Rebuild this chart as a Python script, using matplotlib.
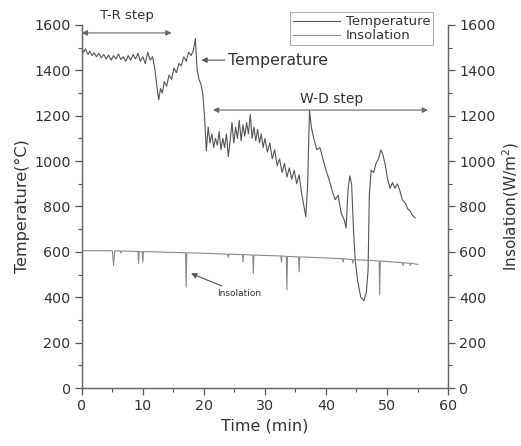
import matplotlib
matplotlib.use("Agg")
import matplotlib.pyplot as plt
from matplotlib.ticker import MultipleLocator

plt.rcParams.update({
    "font.family": "DejaVu Sans",
    "font.size": 10.3,
    "text.color": "#333333",
    "axes.labelcolor": "#333333",
    "xtick.color": "#555555",
    "ytick.color": "#555555",
    "xtick.labelcolor": "#333333",
    "ytick.labelcolor": "#333333",
})

# Temperature trace (min, degC)
time_temp = [0.0, 0.3, 0.6, 1.0, 1.3, 1.7, 2.0, 2.4, 2.8, 3.2, 3.6, 4.0, 4.4, 4.8,
             5.2, 5.6, 6.0, 6.4, 6.8, 7.2, 7.6, 8.0, 8.4, 8.8, 9.2, 9.6, 10.0,
             10.4, 10.8, 11.2, 11.6, 12.0, 12.3, 12.6, 12.9, 13.2, 13.5, 13.9,
             14.3, 14.7, 15.1, 15.5, 15.9, 16.3, 16.7, 17.1, 17.5, 17.9, 18.3,
             18.6, 18.9, 19.2, 19.5, 19.8, 20.1, 20.4, 20.7, 21.0, 21.3, 21.6,
             21.9, 22.2, 22.5, 22.8, 23.1, 23.4, 23.7, 24.0, 24.3, 24.6, 24.9,
             25.2, 25.5, 25.8, 26.1, 26.4, 26.7, 27.0, 27.3, 27.6, 27.9, 28.2,
             28.5, 28.8, 29.1, 29.4, 29.7, 30.0, 30.4, 30.8, 31.2, 31.6, 32.0,
             32.4, 32.8, 33.2, 33.6, 34.0, 34.4, 34.8, 35.2, 35.6, 36.0, 36.4,
             36.7, 37.0, 37.3, 37.6, 38.0, 38.5, 39.0, 39.5, 40.0, 40.5, 41.0,
             41.5, 42.0, 42.5, 43.0, 43.3, 43.6, 43.9, 44.2, 44.5, 44.8, 45.2,
             45.7, 46.2, 46.6, 46.9, 47.1, 47.4, 47.8, 48.2, 48.6, 49.0, 49.3,
             49.7, 50.1, 50.5, 50.9, 51.3, 51.7, 52.1, 52.5, 53.0, 53.4, 53.8,
             54.2, 54.6]
temperature = [1500, 1480, 1495, 1470, 1485, 1465, 1478, 1460, 1475, 1455, 1470,
               1450, 1468, 1445, 1465, 1450, 1472, 1448, 1460, 1440, 1465, 1445,
               1470, 1450, 1475, 1440, 1460, 1430, 1480, 1445, 1460, 1400, 1330,
               1270, 1320, 1300, 1350, 1330, 1380, 1360, 1410, 1390, 1430, 1420,
               1460, 1440, 1480, 1465, 1490, 1540, 1400, 1360, 1340, 1300, 1200,
               1045, 1150, 1080, 1120, 1060, 1100, 1070, 1130, 1050, 1100, 1060,
               1120, 1020, 1090, 1170, 1080, 1150, 1100, 1180, 1090, 1160, 1110,
               1170, 1120, 1205, 1100, 1150, 1090, 1140, 1080, 1120, 1060, 1100,
               1040, 1080, 1010, 1050, 980, 1010, 950, 990, 930, 970, 920, 960,
               900, 940, 860, 800, 755, 900, 1225, 1150, 1100, 1050, 1060, 1010,
               960, 920, 870, 830, 850, 770, 740, 705, 870, 935, 900, 700, 560,
               470, 400, 385, 420, 520, 850, 960, 950, 990, 1010, 1050, 1030, 985,
               920, 880, 905, 880, 900, 870, 830, 815, 790, 780, 760, 750]

# Insolation trace (min, W/m2)
time_ins = [0.0, 5.0, 5.2, 5.4, 6.3, 6.4, 6.5, 9.2, 9.3, 9.4, 9.9, 10.0, 10.1,
            12.0, 17.0, 17.1, 17.2, 20.0, 23.9, 24.0, 24.1, 26.3, 26.4, 26.5,
            28.0, 28.1, 28.2, 32.6, 32.7, 32.8, 33.5, 33.6, 33.7, 35.5, 35.6,
            35.7, 42.7, 42.8, 42.9, 44.3, 44.4, 44.5, 48.7, 48.8, 48.9, 52.5,
            52.6, 52.7, 53.7, 53.8, 53.9, 55.0]
insolation = [605, 605, 540, 605, 604, 595, 604, 602, 550, 602, 601, 555, 601,
              600, 596, 445, 596, 594, 590, 575, 590, 588, 555, 588, 586, 505,
              586, 582, 555, 582, 580, 432, 580, 578, 512, 578, 570, 555, 570,
              566, 550, 566, 560, 410, 560, 552, 540, 552, 550, 540, 550, 545]

fig = plt.figure(figsize=(5.21, 4.46), dpi=100)
ax = fig.add_axes([0.157, 0.130, 0.703, 0.814])
ax2 = ax.twinx()

l1, = ax.plot(time_temp, temperature, color="#555555", lw=0.8)
l2, = ax2.plot(time_ins, insolation, color="#8a8a8a", lw=0.8)

for a in (ax, ax2):
    a.set_xlim(0, 60)
    a.set_ylim(0, 1600)
    a.yaxis.set_major_locator(MultipleLocator(200))
    a.yaxis.set_minor_locator(MultipleLocator(100))
    a.spines["top"].set_visible(False)
    for s in a.spines.values():
        s.set_color("#666666")
        s.set_linewidth(0.9)
    a.tick_params(which="major", direction="out", length=5, width=0.9, pad=3)
    a.tick_params(which="minor", direction="out", length=3, width=0.8)

ax.xaxis.set_major_locator(MultipleLocator(10))
ax.xaxis.set_minor_locator(MultipleLocator(5))

ax.set_xlabel("Time (min)", fontsize=11.5, labelpad=4)
ax.set_ylabel("Temperature(°C)", fontsize=11.5, labelpad=3)
ax2.set_ylabel("Insolation(W/m$^2$)", fontsize=11, labelpad=3)

arrow_kw = dict(arrowstyle="<|-|>", color="#666666", lw=0.8, mutation_scale=8,
                shrinkA=0, shrinkB=0)
single_kw = dict(arrowstyle="-|>", color="#555555", lw=0.8, mutation_scale=8,
                 shrinkA=0, shrinkB=0)

# T-R step
ax.annotate("", xy=(0, 1565), xytext=(14.7, 1565), arrowprops=arrow_kw,
            annotation_clip=False)
ax.text(7.4, 1643, "T-R step", ha="center", va="center", fontsize=9.5, clip_on=False)

# W-D step
ax.annotate("", xy=(21.5, 1225), xytext=(56.7, 1225), arrowprops=arrow_kw)
ax.text(41, 1275, "W-D step", ha="center", va="center", fontsize=10)

# Temperature label
ax.annotate("Temperature", xy=(19.6, 1445), xytext=(23.9, 1445), ha="left",
            va="center", fontsize=11.3, arrowprops=single_kw)

# Insolation label
ax.annotate("Insolation", xy=(17.9, 505), xytext=(22.2, 418), ha="left",
            va="center", fontsize=6.5, arrowprops=single_kw)

leg = fig.legend([l1, l2], ["Temperature", "Insolation"], loc="upper right",
                 bbox_to_anchor=(0.831, 0.972), fontsize=9.5, frameon=True,
                 fancybox=False, handlelength=3.6, handletextpad=0.4,
                 borderpad=0.2, labelspacing=0.1, borderaxespad=0)
leg.get_frame().set_edgecolor("#999999")
leg.get_frame().set_linewidth(0.8)

fig.savefig("out.png", dpi=100)
